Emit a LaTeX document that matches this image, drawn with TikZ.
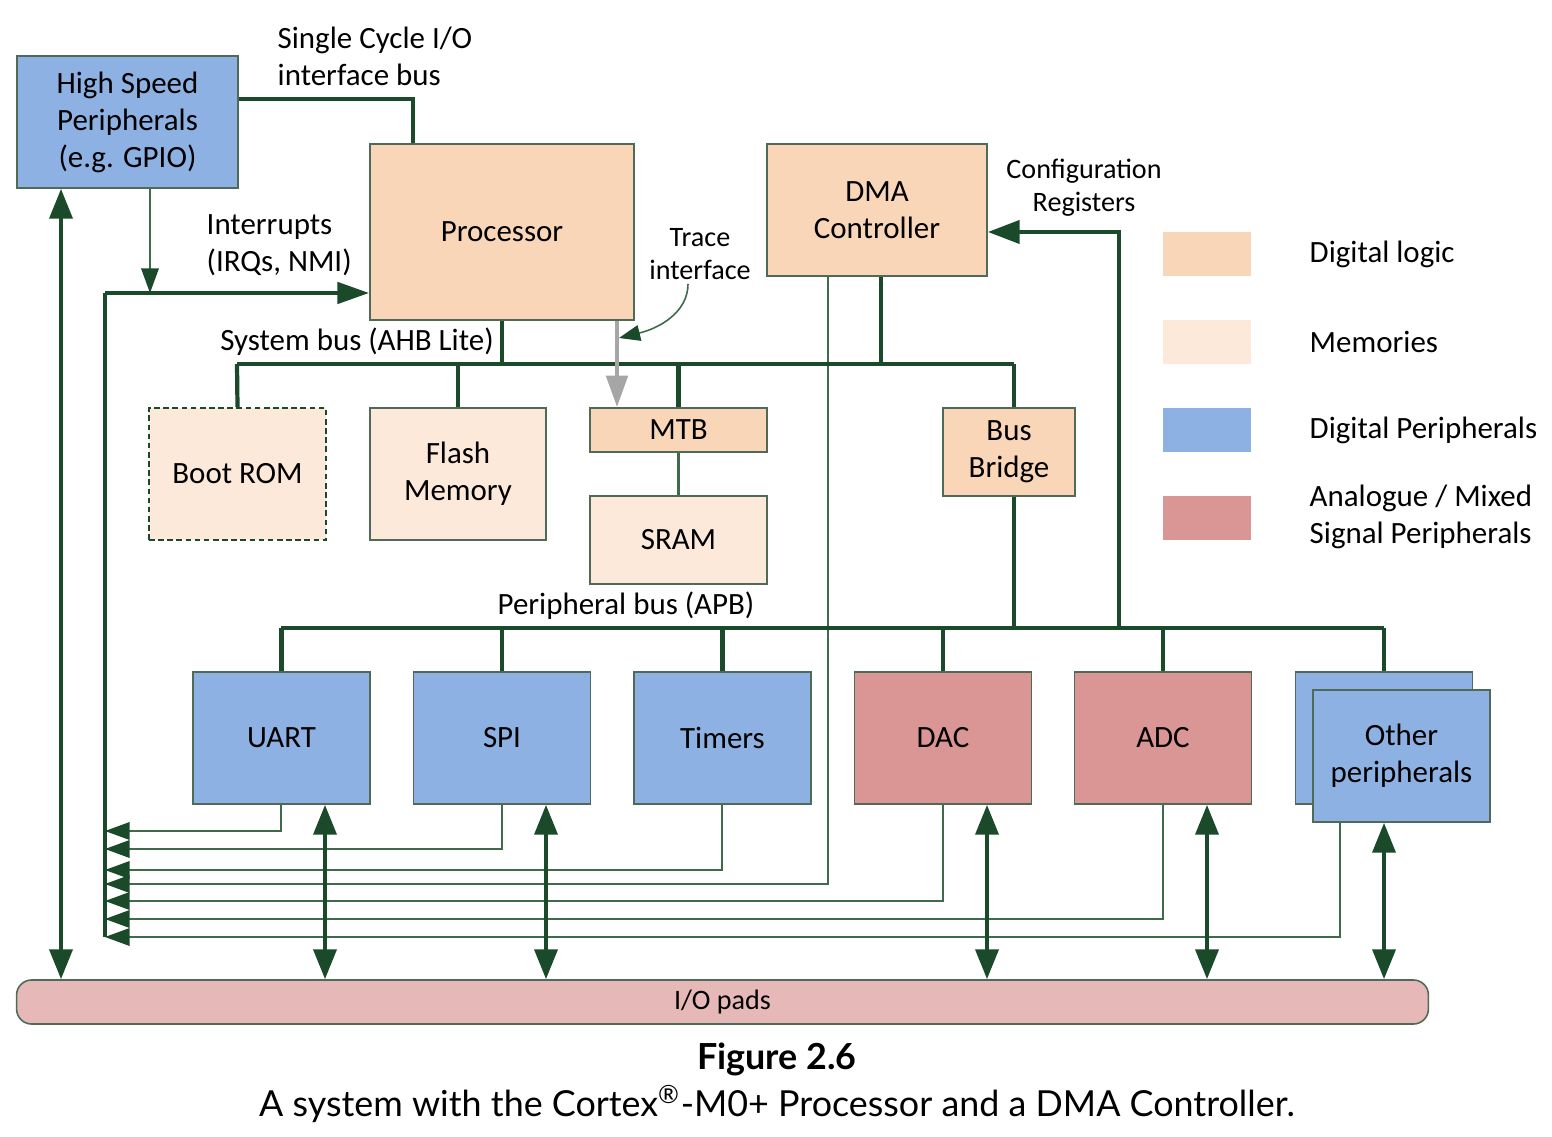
\documentclass[tikz,border=0pt]{standalone}
\usepackage{fontspec}
\setmainfont{Carlito}
\newfontfamily\capfont{Lato}
\usetikzlibrary{arrows.meta,positioning}

\definecolor{busgreen}{HTML}{1A4A2A}
\definecolor{siggreen}{HTML}{3F6A4B}
\definecolor{edgegreen}{HTML}{4F6B57}
\definecolor{logicfill}{HTML}{F9D6B8}
\definecolor{memfill}{HTML}{FDE9DA}
\definecolor{perfill}{HTML}{8DB1E2}
\definecolor{anafill}{HTML}{D99694}
\definecolor{padfill}{HTML}{E6B9B8}

\tikzset{
  box/.style={draw=edgegreen, line width=0.45pt, align=center, inner sep=1pt,
    font=\fontsize{8.8}{10.5}\selectfont},
  logic/.style={box, fill=logicfill},
  memory/.style={box, fill=memfill},
  periph/.style={box, fill=perfill, minimum width=1.77cm, minimum height=1.32cm},
  analog/.style={box, fill=anafill, minimum width=1.77cm, minimum height=1.32cm},
  busline/.style={draw=busgreen, line width=1.2pt},
  sigline/.style={draw=siggreen, line width=0.45pt},
  iolink/.style={busline, {Triangle[length=8.5pt,width=6.5pt]}-{Triangle[length=8.5pt,width=6.5pt]}},
  irqtip/.style={-{Triangle[length=7pt,width=5pt,color=busgreen]}},
  label/.style={font=\fontsize{8.8}{10.5}\selectfont, inner sep=0pt},
  smalllabel/.style={font=\fontsize{8}{9.4}\selectfont, inner sep=1pt, align=center},
  keybox/.style={minimum width=0.88cm, minimum height=0.44cm, inner sep=0pt},
}

\begin{document}
\begin{tikzpicture}[x=0.01cm, y=-0.01cm]
\useasboundingbox (0,0) rectangle (1552,1137);

% blocks
\node[periph, minimum width=2.21cm] (hsp) at (127.5,122) {High Speed\\Peripherals\\(e.g. GPIO)};
\node[logic, minimum width=2.64cm, minimum height=1.76cm] (cpu) at (502,232) {Processor};
\node[logic, minimum width=2.20cm, minimum height=1.32cm] (dma) at (877,210) {DMA\\Controller};
\node[memory, draw=busgreen, dash pattern=on 1.6pt off 1pt, minimum width=1.77cm, minimum height=1.32cm] (bootrom) at (237.5,474) {Boot ROM};
\node[memory, minimum width=1.76cm, minimum height=1.32cm] (flash) at (458,474) {Flash\\Memory};
\node[logic, minimum width=1.77cm, minimum height=0.44cm] (mtb) at (678.5,430) {MTB};
\node[memory, minimum width=1.77cm, minimum height=0.88cm] (sram) at (678.5,540) {SRAM};
\node[logic, minimum width=1.32cm, minimum height=0.88cm] (bridge) at (1009,452) {Bus\\Bridge};

\node[periph] (uart) at (281.5,738) {UART};
\node[periph] (spi) at (502,738) {SPI};
\node[periph] (timers) at (722.5,738) {Timers};
\node[analog] (dac) at (943,738) {DAC};
\node[analog] (adc) at (1163,738) {ADC};
\node[periph] (otherback) at (1384,738) {};
\node[periph] (other) at (1401.5,756) {Other\\peripherals};

\node[draw=edgegreen, line width=0.45pt, fill=padfill, rounded corners=0.15cm,
  minimum width=14.11cm, minimum height=0.44cm, inner sep=0pt,
  font=\fontsize{8}{9}\selectfont] (pads) at (722.5,1002) {I/O pads};

% legend
\node[keybox, fill=logicfill] (keylogic) at (1207,254) {};
\node[keybox, fill=memfill] (keymem) at (1207,342) {};
\node[keybox, fill=perfill] (keyper) at (1207,430) {};
\node[keybox, fill=anafill] (keyana) at (1207,518) {};
\node[label, anchor=west] at (1309,254) {Digital logic};
\node[label, anchor=west] at (1309,342) {Memories};
\node[label, anchor=west] at (1309,430) {Digital Peripherals};
\node[label, anchor=west, align=left] at (1309,517) {Analogue / Mixed\\Signal Peripherals};

% bus points
\coordinate (sio) at (413,99);
\coordinate (irqtop) at (105,293);
\coordinate (irqbot) at (105,937);
\coordinate (irqdrop) at (150,293);
\coordinate (sysL) at (237,364);
\coordinate (sysR) at (1014,364);
\coordinate (apbL) at (281,628);
\coordinate (apbR) at (1384,628);
\coordinate (cfgbot) at (1119,628);
\coordinate (cfgtop) at (1119,232);

% single cycle I/O and interrupts
\draw[busline] (hsp.east |- sio) -- (sio) -- (cpu.north -| sio);
\draw[busline, -{Triangle[length=9pt,width=6pt]}] (irqtop) -- (cpu.west |- irqtop);
\draw[busline] (irqtop) -- (irqbot);
\draw[sigline, irqtip] (hsp.south -| irqdrop) -- (irqdrop);
\foreach \n/\x/\y in {uart/281/831, spi/502/849, timers/722/870, dma/828/884,
                      dac/943/901, adc/1163/919, other/1340/937}
  \draw[sigline, irqtip] (\n.south -| \x,0) |- (irqbot |- 0,\y);

% system bus (AHB)
\draw[busline] (sysL) -- (sysR);
\draw[busline] (cpu.south) -- (cpu.south |- sysL);
\draw[busline] (dma.south -| 881,0) -- (881,364);
\draw[busline] (sysL) -- (bootrom.north);
\draw[busline] (flash.north |- sysL) -- (flash.north);
\draw[busline] (mtb.north |- sysL) -- (mtb.north);
\draw[busline] (sysR) -- (bridge.north -| sysR);
\draw[sigline, line width=0.9pt] (mtb.south) -- (sram.north);

% trace
\draw[draw=gray!70, line width=1.4pt, -{Triangle[length=9pt,width=6pt]}] (cpu.south -| 617,0) -- (mtb.north -| 617,0);
\node[smalllabel] (trace) at (700,254) {Trace\\interface};
\draw[sigline, -{Triangle[length=6pt,width=4.5pt,color=busgreen]}] (trace.south -| 688,0) .. controls (688,312) and (660,328) .. (619,338);

% peripheral bus (APB)
\draw[busline] (apbL) -- (apbR);
\draw[busline] (bridge.south -| sysR) -- (sysR |- apbL);
\foreach \n in {uart, spi, timers, dac, adc}
  \draw[busline] (\n.north |- apbL) -- (\n.north);
\draw[busline] (apbR) -- (otherback.north);
\draw[busline, -{Triangle[length=9pt,width=6.5pt]}] (cfgbot) -- (cfgtop) -- (dma.east |- cfgtop);

% links to the I/O pads
\draw[iolink] (hsp.south -| 61,0) -- (pads.north -| 61,0);
\foreach \n/\x in {uart/325, spi/546, dac/987, adc/1207, other/1384}
  \draw[iolink] (\n.south -| \x,0) -- (pads.north -| \x,0);

% bus labels
\node[label, anchor=west, align=left] at (277,56) {Single Cycle I/O\\interface bus};
\node[label, anchor=west, align=left] at (206,245) {Interrupts\\(IRQs, NMI)};
\node[label] at (357,342) {System bus (AHB Lite)};
\node[label] at (626,606) {Peripheral bus (APB)};
\node[smalllabel] at (1084,188) {Configuration\\Registers};

% caption
\node[font=\capfont\fontsize{10.2}{12}\selectfont\bfseries] at (777,1059) {Figure 2.6};
\node[font=\capfont\fontsize{10.2}{12}\selectfont] at (777,1104) {A system with the Cortex\textsuperscript{\textregistered}-M0+ Processor and a DMA Controller.};
\end{tikzpicture}
\end{document}
